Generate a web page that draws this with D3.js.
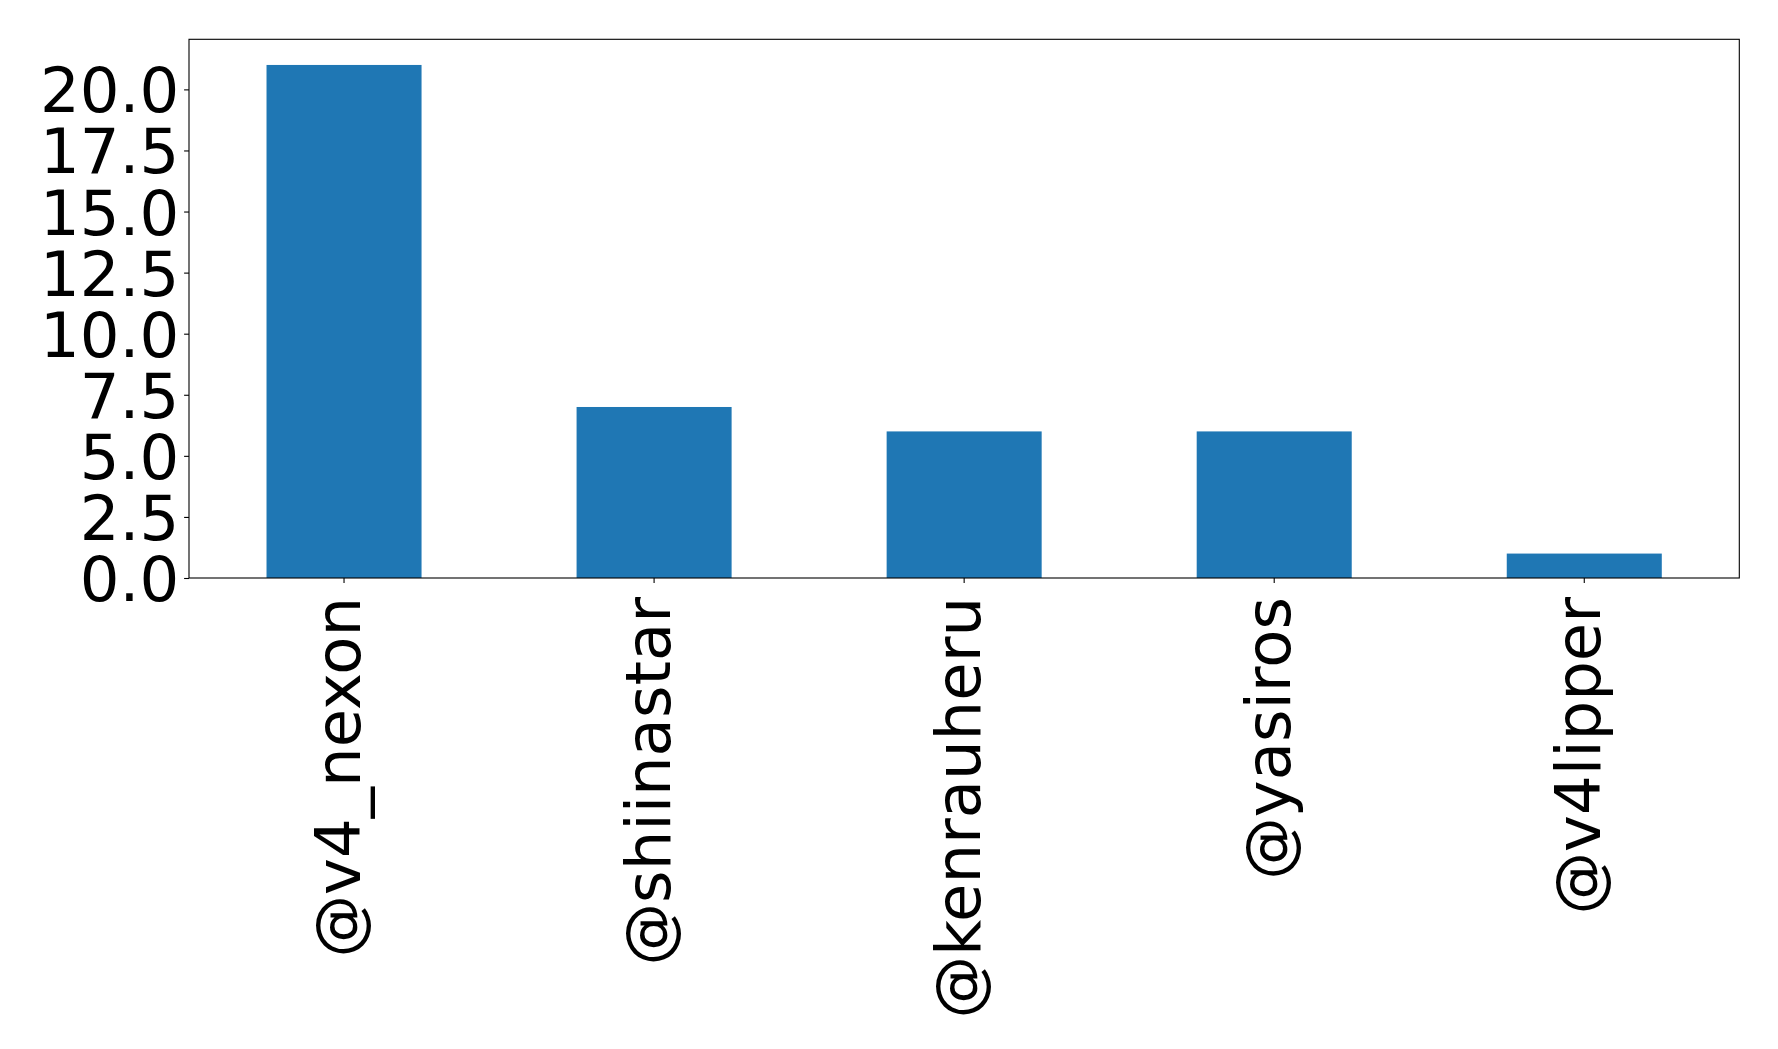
<!DOCTYPE html>
<html><head><meta charset="utf-8">
<script src="https://cdn.jsdelivr.net/npm/d3@7"></script>
<style>body{margin:0;background:#fff}svg{display:block}text{font-family:"DejaVu Sans",sans-serif}</style>
</head><body><svg id="c" width="1778" height="1049"></svg>
<script>
const categories = ["@v4_nexon","@shiinastar","@kenrauheru","@yasiros","@v4lipper"];
const values = [21, 7, 6, 6, 1];
const yTicks = [0, 2.5, 5, 7.5, 10, 12.5, 15, 17.5, 20];

const L = 189, R = 1739.3, T = 39.3, B = 578;
const svg = d3.select("#c");
const x = d3.scaleBand().domain(categories).range([L, R]).paddingInner(0.5).paddingOuter(0.25);
const y = d3.scaleLinear().domain([0, d3.max(values) * 1.05]).range([B, T]);

svg.append("g").selectAll("rect").data(values).join("rect")
  .attr("x", (d, i) => x(categories[i]))
  .attr("width", x.bandwidth())
  .attr("y", d => y(d))
  .attr("height", d => B - y(d))
  .attr("fill", "#1f77b4");

const fs = 62.5;
const yAxis = svg.append("g").attr("transform", `translate(${L},0)`)
  .call(d3.axisLeft(y).tickValues(yTicks).tickFormat(d3.format(".1f")).tickSize(4.9).tickPadding(4.9));
yAxis.select(".domain").remove();
yAxis.selectAll("line").attr("stroke", "#000").attr("stroke-width", 1.1);
yAxis.selectAll("text").attr("font-size", fs).attr("fill", "#000").attr("dy", "0.36em");

const xAxis = svg.append("g").attr("transform", `translate(0,${B})`)
  .call(d3.axisBottom(x).tickSize(4.9).tickPadding(4.9));
xAxis.select(".domain").remove();
xAxis.selectAll("line").attr("stroke", "#000").attr("stroke-width", 1.1);
xAxis.selectAll("text").attr("font-size", fs).attr("fill", "#000")
  .attr("text-anchor", "end")
  .attr("transform", "translate(0,19) rotate(-90)")
  .attr("x", 0).attr("y", 0).attr("dy", "0.25em");

svg.append("rect").attr("x", L).attr("y", T).attr("width", R - L).attr("height", B - T)
  .attr("fill", "none").attr("stroke", "#000").attr("stroke-width", 1.1);
</script></body></html>
